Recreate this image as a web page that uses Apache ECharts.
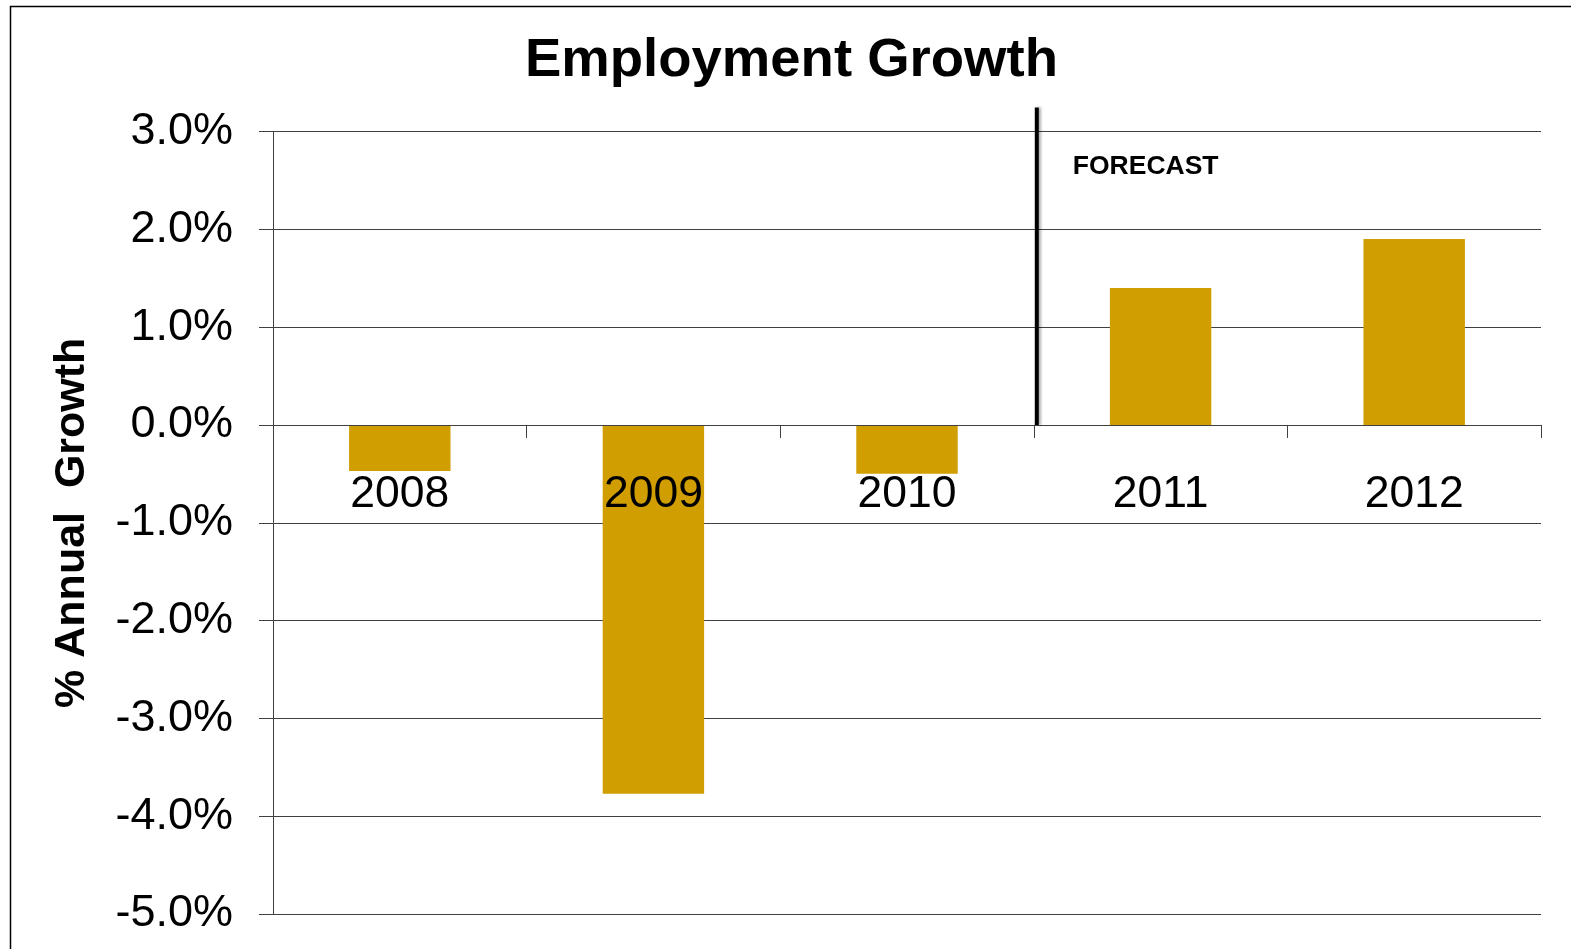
<!DOCTYPE html>
<html>
<head>
<meta charset="utf-8">
<script src="https://cdn.jsdelivr.net/npm/echarts@6/dist/echarts.min.js"></script>
<style>html,body{margin:0;padding:0;background:#fff;}#chart{width:1571px;height:949px;}</style>
</head>
<body>
<div id="chart"></div>
<script>
const categories = ['2008', '2009', '2010', '2011', '2012'];
const growth = [-0.47, -3.77, -0.5, 1.4, 1.9];
const yTicks = { min: -5, max: 3, interval: 1 };
const forecastLabel = 'FORECAST';
const forecastAfter = '2010';

const FONT = '"Liberation Sans", Arial, sans-serif';
const chart = echarts.init(document.getElementById('chart'), null, { renderer: 'canvas' });
chart.setOption({
  animation: false,
  backgroundColor: '#fff',
  title: {
    text: 'Employment Growth',
    left: 520,
    top: 28,
    textStyle: { fontFamily: FONT, fontSize: 54.5, fontWeight: 'bold', color: '#000' }
  },
  grid: { left: 273, right: 30, top: 131.5, bottom: 35, containLabel: false, outerBoundsMode: 'none' },
  xAxis: {
    type: 'category',
    data: categories,
    offset: 0,
    axisLine: { onZero: false, lineStyle: { color: '#404040', width: 1 } },
    axisTick: { show: true, length: 13, inside: false, lineStyle: { color: '#404040' } },
    axisLabel: { fontFamily: FONT, fontSize: 44.5, color: '#000', margin: 47 },
    splitLine: { show: false },
    z: 10
  },
  yAxis: {
    type: 'value',
    min: yTicks.min, max: yTicks.max, interval: yTicks.interval,
    name: '% Annual  Growth',
    nameLocation: 'middle',
    nameGap: 179,
    nameTextStyle: { fontFamily: FONT, fontSize: 43, fontWeight: 'bold', color: '#000' },
    axisLine: { show: true, lineStyle: { color: '#404040', width: 1 } },
    axisTick: { show: true, length: 14, lineStyle: { color: '#404040' } },
    axisLabel: { fontFamily: FONT, fontSize: 45, color: '#000', margin: 40,
      formatter: v => v.toFixed(1) + '%' },
    splitLine: { show: true, lineStyle: { color: '#404040', width: 1 } }
  },
  series: [{
    type: 'bar',
    data: growth,
    barWidth: '40%',
    itemStyle: { color: '#D09E00' },
    z: 2
  }]
});

function drawExtras() {
  const i = categories.indexOf(forecastAfter);
  const p1 = chart.convertToPixel({ xAxisIndex: 0, yAxisIndex: 0 }, [i, 0]);
  const p2 = chart.convertToPixel({ xAxisIndex: 0, yAxisIndex: 0 }, [i + 1, 0]);
  const pTop = chart.convertToPixel({ xAxisIndex: 0, yAxisIndex: 0 }, [i, yTicks.max]);
  const pBot = chart.convertToPixel({ xAxisIndex: 0, yAxisIndex: 0 }, [i, yTicks.min]);
  const xLine = (p1[0] + p2[0]) / 2 + 3;
  chart.setOption({
    xAxis: { offset: -(pBot[1] - p1[1]) },
    graphic: [
      { type: 'rect', shape: { x: 10.5, y: 6.5, width: 2000, height: 2000 },
        style: { fill: null, stroke: '#000', lineWidth: 1.5 }, silent: true, z: 100 },
      { type: 'line', shape: { x1: xLine, y1: pTop[1] - 24, x2: xLine, y2: p1[1] },
        style: { stroke: '#000', lineWidth: 4, shadowColor: 'rgba(0,0,0,0.35)', shadowBlur: 3, shadowOffsetX: 2 }, z: 100 },
      { type: 'text', x: xLine + 36, y: pTop[1] + 35,
        style: { text: forecastLabel, fill: '#000', font: 'bold 26.5px ' + FONT, textVerticalAlign: 'middle' }, z: 100 }
    ]
  });
}
drawExtras();
</script>
</body>
</html>
